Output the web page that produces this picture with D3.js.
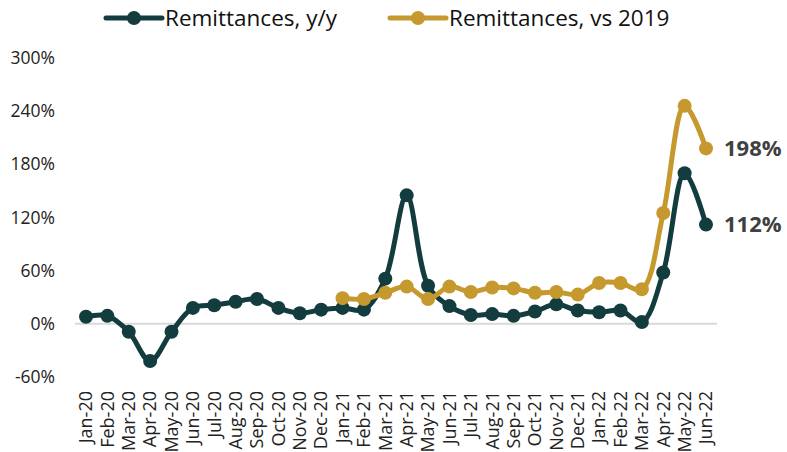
<!DOCTYPE html>
<html>
<head>
<meta charset="utf-8">
<script src="https://cdn.jsdelivr.net/npm/d3@7"></script>
<style>
  body { margin: 0; background: #fff; }
  svg { font-family: "Open Sans", "Noto Sans", sans-serif; }
</style>
</head>
<body>
<script>
const w = 787
const h = 452

// Months on the x axis
const months = ["Jan-20", "Feb-20", "Mar-20", "Apr-20", "May-20", "Jun-20", "Jul-20", "Aug-20", "Sep-20", "Oct-20", "Nov-20", "Dec-20",
                "Jan-21", "Feb-21", "Mar-21", "Apr-21", "May-21", "Jun-21", "Jul-21", "Aug-21", "Sep-21", "Oct-21", "Nov-21", "Dec-21",
                "Jan-22", "Feb-22", "Mar-22", "Apr-22", "May-22", "Jun-22"]

// Remittances, y/y (%)
const yoy = [8, 9, -9, -42, -9, 18, 21, 25, 28, 18, 12, 16,
             18, 16, 51, 145, 43, 20, 10, 11, 9, 14, 22, 15,
             13, 15, 2, 58, 170, 112]

// Remittances, vs 2019 (%) - starts Jan-21
const vs2019 = [null, null, null, null, null, null, null, null, null, null, null, null,
                29, 28, 35, 42, 28, 42, 36, 41, 40, 35, 36, 33,
                46, 46, 39, 125, 246, 198]

const yTicks = [-60, 0, 60, 120, 180, 240, 300]

const seriesNames = ["Remittances, y/y", "Remittances, vs 2019"]
const colors = ["#133c3e", "#c6992f"]

const svg = d3.select("body")
              .append("svg")
              .attr("width", w)
              .attr("height", h)

const x = d3.scalePoint()
            .domain(months)
            .range([86, 706])

const y = d3.scaleLinear()
            .domain([-60, 300])
            .range([377, 58])

// Zero line
svg.append("line")
   .attr("x1", 75)
   .attr("x2", 717)
   .attr("y1", y(0))
   .attr("y2", y(0))
   .attr("stroke", "#d9d9d9")
   .attr("stroke-width", 2)

// Y axis labels
svg.append("g")
   .selectAll("text")
   .data(yTicks)
   .enter()
   .append("text")
   .attr("x", 55)
   .attr("y", d => y(d))
   .attr("dy", "0.35em")
   .attr("text-anchor", "end")
   .attr("font-size", 17.5)
   .attr("fill", "#222")
   .text(d => d + "%")

// X axis labels, rotated
svg.append("g")
   .selectAll("text")
   .data(months)
   .enter()
   .append("text")
   .attr("transform", d => `translate(${x(d)}, 391) rotate(-90)`)
   .attr("dy", "0.35em")
   .attr("text-anchor", "end")
   .attr("font-size", 18)
   .attr("fill", "#222")
   .text(d => d)

const line = d3.line()
               .defined(d => d.v !== null)
               .x(d => x(d.m))
               .y(d => y(d.v))
               .curve(d3.curveCatmullRom.alpha(0.5))

const allSeries = [yoy, vs2019].map(vals => vals.map((v, i) => ({ m: months[i], v: v })))

allSeries.forEach((s, i) => {
  svg.append("path")
     .datum(s)
     .attr("fill", "none")
     .attr("stroke", colors[i])
     .attr("stroke-width", 5)
     .attr("stroke-linejoin", "round")
     .attr("d", line)

  svg.append("g")
     .selectAll("circle")
     .data(s.filter(d => d.v !== null))
     .enter()
     .append("circle")
     .attr("cx", d => x(d.m))
     .attr("cy", d => y(d.v))
     .attr("r", 7)
     .attr("fill", colors[i])
})

// End labels
svg.append("text")
   .attr("x", 724)
   .attr("y", y(vs2019[29]))
   .attr("dy", "0.35em")
   .attr("font-size", 22)
   .attr("font-weight", "bold")
   .attr("fill", "#404040")
   .text(vs2019[29] + "%")

svg.append("text")
   .attr("x", 724)
   .attr("y", y(yoy[29]))
   .attr("dy", "0.35em")
   .attr("font-size", 22)
   .attr("font-weight", "bold")
   .attr("fill", "#404040")
   .text(yoy[29] + "%")

// Legend
const legendX = [106, 390]
const legend = svg.append("g")
                  .selectAll("g")
                  .data(seriesNames)
                  .enter()
                  .append("g")
                  .attr("transform", (d, i) => `translate(${legendX[i]}, 18)`)

legend.append("line")
      .attr("x1", 0)
      .attr("x2", 56)
      .attr("stroke", (d, i) => colors[i])
      .attr("stroke-width", 5)
      .attr("stroke-linecap", "round")

legend.append("circle")
      .attr("cx", 28)
      .attr("r", 7)
      .attr("fill", (d, i) => colors[i])

legend.append("text")
      .attr("x", 59)
      .attr("dy", "0.35em")
      .attr("font-size", 22.5)
      .attr("fill", "#111")
      .text(d => d)
</script>
</body>
</html>
